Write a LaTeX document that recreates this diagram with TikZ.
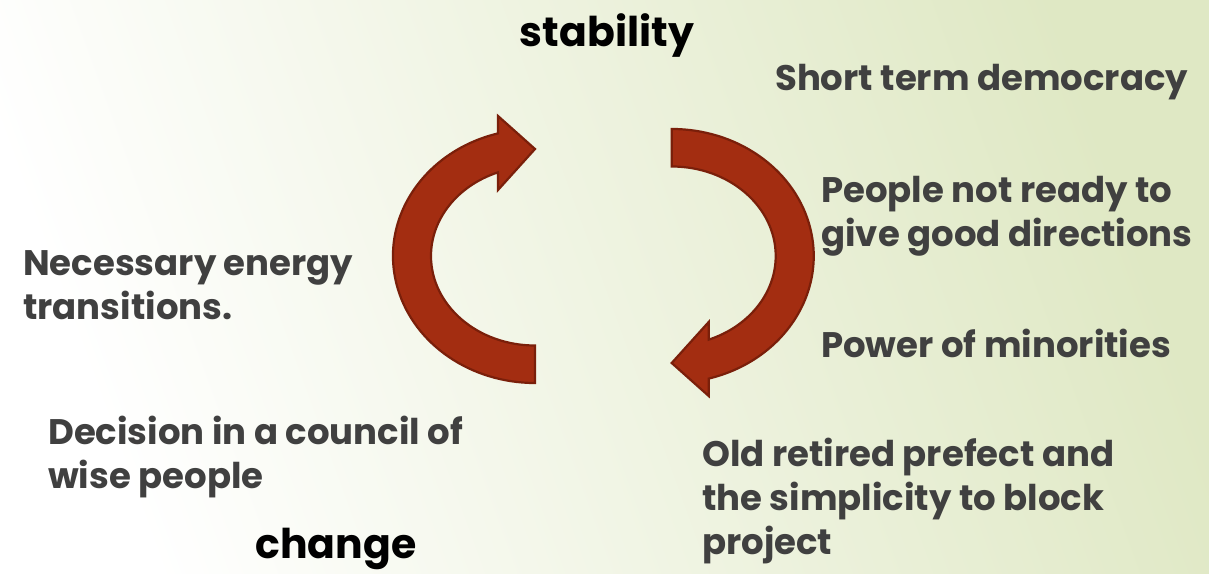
\documentclass[tikz,border=0pt]{standalone}
\usepackage{fontspec}
\setmainfont{Poppins}
\definecolor{bggreen}{HTML}{DFE8C4}
\definecolor{textgray}{HTML}{404040}
\definecolor{arrowred}{HTML}{A32D11}
\definecolor{arrowdark}{HTML}{7A1F0A}

\begin{document}
\begin{tikzpicture}[x=1pt, y=1pt]
	\tikzstyle{note} = [anchor=base west, inner sep=0, align=left, text=textgray, font=\fontsize{35.5}{44}\selectfont\bfseries]
	\tikzstyle{heading} = [anchor=base, inner sep=0, text=black, font=\fontsize{41}{44}\selectfont\bfseries]
	\tikzstyle{turn} = [fill=arrowred, draw=arrowdark, line width=2.2pt, line join=miter]
	\shade[left color=white, right color=bggreen, shading angle=110] (0,0) rectangle (1209,573);
	\useasboundingbox (0,0) rectangle (1209,573);
	% the two turning arrows
	\filldraw[turn, shift={(535,317)}] (-37,140) -- (-37,122.6) arc[start angle=105.1, end angle=270, x radius=142, y radius=127] -- (0,-89.5) arc[start angle=270, end angle=110.84, x radius=104, y radius=89.5] -- (-37,66) -- (0,107) -- cycle;
	\filldraw[turn, shift={(671.7,317)}, rotate=180] (-37,140) -- (-37,122.6) arc[start angle=105.1, end angle=270, x radius=142, y radius=127] -- (0,-89.5) arc[start angle=270, end angle=110.84, x radius=104, y radius=89.5] -- (-37,66) -- (0,107) -- cycle;
	% texts (base = last line)
	\node (stability) [heading] at (607,526) {stability};
	\node (change) [heading] at (336,15) {change};
	\node (shortTerm) [note] at (775,482.4) {Short term democracy};
	\node (peopleReady) [note] at (821,326.3) {People not ready to\\give good directions};
	\node (powerMinorities) [note] at (821,215) {Power of minorities};
	\node (energyTransitions) [note] at (23,253) {Necessary energy\\transitions.};
	\node (councilDecision) [note] at (48,85) {Decision in a council of\\wise people};
	\node (oldPrefect) [note] at (702,19) {Old retired prefect and\\the simplicity to block\\project};
\end{tikzpicture}
\end{document}
